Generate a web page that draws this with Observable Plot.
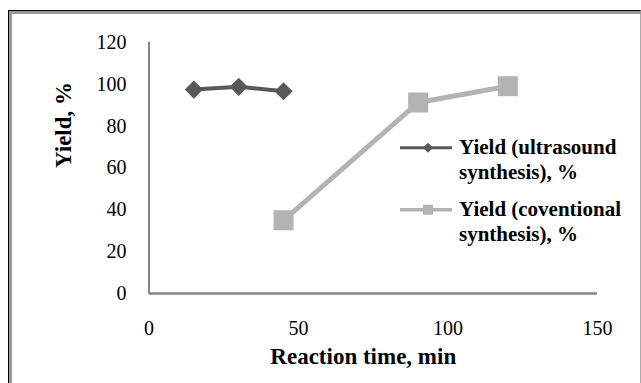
<!DOCTYPE html>
<html>
<head>
<meta charset="utf-8">
<script src="https://cdn.jsdelivr.net/npm/d3@7"></script>
<script src="https://cdn.jsdelivr.net/npm/@observablehq/plot@0.6"></script>
<style>
  html, body { margin: 0; padding: 0; background: #fff; }
  #wrap { position: relative; width: 641px; height: 383px; overflow: hidden; font-family: "Liberation Serif", Tinos, "Times New Roman", "DejaVu Serif", serif; }
  #chart { position: absolute; left: 0; top: 0; }
  #border1 { position: absolute; left: 8px; top: 10px; width: 631px; height: 400px; border-left: 1px solid #000; border-top: 1px solid #000; border-right: 1px solid #aaa; pointer-events: none; }
  #border2 { position: absolute; left: 9px; top: 11px; width: 640px; height: 400px; border-left: 3px solid #999; border-top: 3px solid #999; pointer-events: none; }
  #legend { position: absolute; left: 400px; top: 135px; font-weight: bold; font-size: 21px; line-height: 25px; color: #000; }
  .item { display: flex; align-items: flex-start; margin-bottom: 12px; }
  .item svg { flex: none; margin-right: 7px; }
</style>
</head>
<body>
<div id="wrap">
  <div id="chart"></div>
  <div id="legend"></div>
  <div id="border1"></div>
  <div id="border2"></div>
</div>
<script>
// Data
const seriesNames = ["Yield (ultrasound synthesis), %", "Yield (coventional synthesis), %"];
const ultrasoundTime = [15, 30, 45];
const ultrasoundYield = [97.5, 98.8, 96.7];
const conventionalTime = [45, 90, 120];
const conventionalYield = [35, 91.3, 99.1];
const xTicks = [0, 50, 100, 150];
const yTicks = [0, 20, 40, 60, 80, 100, 120];
const xTitle = "Reaction time, min";
const yTitle = "Yield, %";

const colors = ["#595959", "#b3b3b3"];
const serif = "'Liberation Serif', Tinos, 'Times New Roman', 'DejaVu Serif', serif";

const ultra = ultrasoundTime.map((t, i) => ({time: t, yield: ultrasoundYield[i]}));
const conv = conventionalTime.map((t, i) => ({time: t, yield: conventionalYield[i]}));

const plot = Plot.plot({
  width: 641,
  height: 383,
  marginLeft: 148.5,
  marginRight: 44,
  marginTop: 42,
  marginBottom: 90,
  style: {fontFamily: serif, fontSize: "20px", color: "#000", background: "transparent", overflow: "visible"},
  x: {domain: [0, 150]},
  y: {domain: [0, 120]},
  marks: [
    Plot.axisX({ticks: xTicks, tickSize: 0, tickPadding: 27, label: null, fontSize: 20, tickFormat: d => String(d)}),
    Plot.axisY({ticks: yTicks, tickSize: 0, tickPadding: 22.5, label: null, fontSize: 20, tickFormat: d => String(d)}),
    Plot.ruleX([0], {stroke: "#868686", strokeWidth: 2}),
    Plot.ruleY([0], {stroke: "#868686", strokeWidth: 2.5}),
    Plot.line(ultra, {x: "time", y: "yield", stroke: colors[0], strokeWidth: 4}),
    Plot.dot(ultra, {x: "time", y: "yield", symbol: "diamond2", r: 8.2, fill: colors[0], stroke: "none"}),
    Plot.line(conv, {x: "time", y: "yield", stroke: colors[1], strokeWidth: 5}),
    Plot.dot(conv, {x: "time", y: "yield", symbol: "square", r: 11.3, fill: colors[1], stroke: "none"}),
    Plot.text([xTitle], {frameAnchor: "bottom", lineAnchor: "bottom", dy: 70, dx: -10, fontWeight: "bold", fontSize: 23}),
    Plot.text([yTitle], {frameAnchor: "left", rotate: -90, dx: -85, fontWeight: "bold", fontSize: 23})
  ]
});
document.getElementById("chart").appendChild(plot);

// Legend
const legend = d3.select("#legend");
const words = [["Yield (ultrasound", "synthesis), %"], ["Yield (coventional", "synthesis), %"]];
seriesNames.forEach((name, i) => {
  const item = legend.append("div").attr("class", "item").attr("title", name);
  const svg = item.append("svg").attr("width", 52).attr("height", 25);
  svg.append("line").attr("x1", 0).attr("x2", 52).attr("y1", 12.7).attr("y2", 12.7)
    .attr("stroke", colors[i]).attr("stroke-width", i === 0 ? 3 : 3.5);
  if (i === 0) {
    svg.append("path").attr("d", "M28,7.7L33,12.7L28,17.7L23,12.7Z").attr("fill", colors[i]);
  } else {
    svg.append("rect").attr("x", 23).attr("y", 7.7).attr("width", 10).attr("height", 10).attr("fill", colors[i]);
  }
  const txt = item.append("div");
  txt.append("div").text(words[i][0]);
  txt.append("div").text(words[i][1]);
});
</script>
</body>
</html>
